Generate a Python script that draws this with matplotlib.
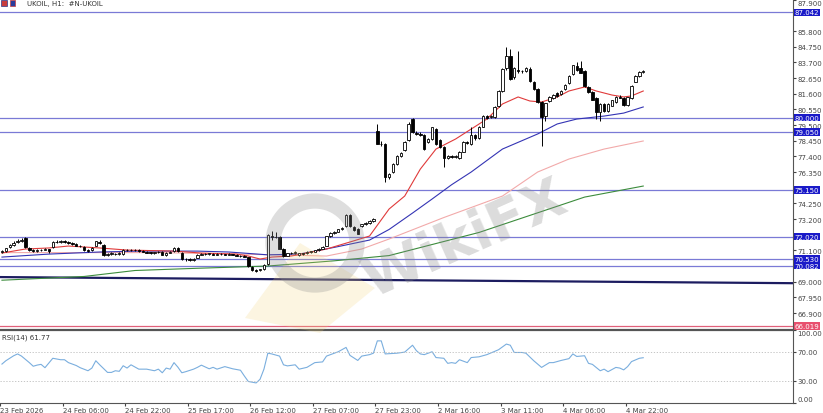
import numpy as np
import matplotlib
matplotlib.use('Agg')
import matplotlib.pyplot as plt
from matplotlib.patches import Rectangle, Circle, Polygon

# H1 candles, UKOIL
opens = [70.98, 71.05, 71.30, 71.46, 71.65, 71.74, 71.92, 71.25, 71.12, 71.08,
         71.12, 71.15, 71.18, 71.30, 71.66, 71.68, 71.70, 71.66, 71.58, 71.50,
         71.40, 71.32, 71.14, 71.10, 71.40, 71.68, 71.46, 70.82, 70.86, 70.88,
         70.86, 70.85, 71.15, 71.10, 71.10, 71.12, 71.04, 71.00, 70.96, 70.92,
         70.96, 71.00, 70.78, 70.95, 71.04, 71.25, 70.95, 70.52, 70.50, 70.46,
         70.60, 70.82, 70.85, 70.86, 70.88, 70.82, 70.85, 70.85, 70.82, 70.85,
         70.80, 70.75, 70.72, 70.65, 70.00, 69.80, 69.76, 69.85, 70.18, 72.05,
         72.00, 71.98, 71.20, 70.75, 70.90, 70.95, 70.76, 70.88, 70.90, 71.00,
         71.02, 71.10, 71.22, 71.40, 72.08, 72.25, 72.35, 72.50, 72.70, 73.45,
         72.66, 72.52, 72.72, 72.86, 72.95, 73.10, 79.10, 78.23, 78.20, 76.00,
         76.35, 76.90, 77.42, 77.80, 78.50, 79.90, 78.98, 78.90, 78.80, 78.36,
         78.56, 79.22, 78.50, 78.05, 77.32, 77.40, 77.36, 77.30, 77.72, 78.38,
         78.20, 78.80, 78.60, 79.40, 80.10, 80.02, 80.05, 80.76, 81.80, 83.30,
         84.10, 82.70, 83.20, 83.10, 83.14, 83.28, 82.40, 81.91, 81.04, 80.10,
         81.08, 81.30, 81.62, 81.55, 81.90, 82.30, 82.90, 83.45, 83.30, 83.10,
         82.05, 81.70, 81.30, 80.40, 80.90, 80.45, 80.80, 81.02, 81.38, 81.30,
         80.85, 81.30, 82.40, 82.80, 83.08]
highs = [71.12, 71.28, 71.52, 71.70, 71.86, 71.96, 71.98, 71.30, 71.20, 71.18,
         71.22, 71.26, 71.22, 71.70, 71.78, 71.80, 71.80, 71.74, 71.64, 71.56,
         71.48, 71.38, 71.20, 71.30, 71.75, 71.78, 71.50, 70.92, 70.96, 70.94,
         70.98, 71.20, 71.20, 71.18, 71.18, 71.16, 71.10, 71.05, 71.02, 71.00,
         71.05, 71.04, 70.98, 71.05, 71.30, 71.30, 70.98, 70.58, 70.56, 70.60,
         70.84, 70.90, 70.92, 70.94, 70.92, 70.90, 70.90, 70.88, 70.90, 70.88,
         70.84, 70.80, 70.76, 70.68, 70.05, 69.86, 69.88, 70.18, 72.18, 72.40,
         72.30, 72.05, 71.25, 70.95, 71.00, 71.05, 70.92, 70.94, 71.04, 71.08,
         71.15, 71.25, 71.40, 72.08, 72.30, 72.40, 72.56, 72.66, 73.52, 73.55,
         72.72, 72.58, 72.90, 72.98, 73.14, 73.26, 79.57, 78.40, 78.28, 76.30,
         76.95, 77.48, 77.70, 78.42, 79.70, 80.00, 79.10, 79.02, 78.88, 78.65,
         79.40, 79.30, 78.58, 78.10, 77.50, 77.48, 77.52, 77.76, 78.42, 78.44,
         79.37, 78.90, 79.45, 80.15, 80.18, 80.16, 80.76, 81.82, 83.30, 84.73,
         84.60, 83.40, 84.46, 83.22, 83.39, 83.36, 82.46, 81.98, 81.10, 81.00,
         81.42, 81.55, 81.70, 81.84, 82.25, 82.84, 83.55, 83.70, 83.80, 83.18,
         82.10, 81.76, 81.36, 80.95, 80.98, 80.95, 81.20, 81.45, 81.48, 81.36,
         81.40, 82.15, 82.86, 83.10, 83.20]
lows = [70.92, 71.00, 71.25, 71.42, 71.60, 71.68, 71.25, 71.05, 71.02, 71.02,
        71.05, 71.10, 70.95, 71.28, 71.60, 71.62, 71.62, 71.55, 71.48, 71.36,
        71.30, 71.05, 70.98, 71.05, 71.38, 71.55, 70.75, 70.72, 70.80, 70.78,
        70.82, 70.82, 71.06, 71.04, 71.06, 71.00, 70.96, 70.90, 70.88, 70.88,
        70.92, 70.76, 70.74, 70.92, 71.00, 71.02, 70.48, 70.42, 70.40, 70.42,
        70.56, 70.76, 70.80, 70.82, 70.78, 70.78, 70.80, 70.78, 70.78, 70.76,
        70.72, 70.68, 70.64, 69.98, 69.74, 69.65, 69.70, 69.80, 70.10, 71.78,
        71.90, 71.18, 70.66, 70.70, 70.85, 70.88, 70.70, 70.80, 70.86, 70.95,
        70.98, 71.06, 71.18, 71.36, 72.02, 72.18, 72.30, 72.44, 72.66, 72.66,
        72.40, 72.18, 72.68, 72.80, 72.90, 73.02, 78.20, 78.10, 75.68, 75.85,
        76.28, 76.85, 77.36, 77.75, 78.45, 78.95, 78.80, 78.76, 77.82, 78.30,
        78.50, 78.18, 77.98, 76.69, 77.20, 77.28, 77.30, 77.25, 77.68, 78.20,
        78.16, 78.50, 78.56, 79.35, 79.90, 79.96, 80.00, 80.70, 81.74, 83.22,
        82.52, 82.60, 83.00, 82.98, 83.05, 82.40, 81.86, 81.00, 78.10, 79.80,
        81.02, 81.25, 81.40, 81.50, 81.86, 82.25, 82.85, 83.15, 82.96, 82.05,
        81.62, 81.15, 79.90, 79.80, 80.38, 80.40, 80.75, 80.98, 81.28, 80.80,
        80.80, 81.25, 82.35, 82.75, 82.98]
closes = [71.05, 71.25, 71.46, 71.62, 71.72, 71.80, 71.30, 71.12, 71.08, 71.12,
          71.15, 71.20, 71.05, 71.65, 71.68, 71.72, 71.66, 71.60, 71.52, 71.40,
          71.36, 71.10, 71.04, 71.25, 71.70, 71.62, 70.80, 70.86, 70.90, 70.84,
          70.92, 71.15, 71.12, 71.10, 71.14, 71.05, 71.00, 70.95, 70.92, 70.96,
          71.00, 70.80, 70.95, 71.00, 71.25, 71.05, 70.52, 70.50, 70.45, 70.55,
          70.80, 70.85, 70.86, 70.88, 70.82, 70.85, 70.85, 70.82, 70.85, 70.80,
          70.75, 70.72, 70.68, 70.02, 69.80, 69.75, 69.82, 70.15, 72.10, 72.02,
          71.98, 71.22, 70.72, 70.90, 70.95, 71.00, 70.90, 70.86, 71.00, 71.02,
          71.10, 71.20, 71.35, 72.05, 72.25, 72.35, 72.50, 72.60, 73.47, 72.72,
          72.45, 72.22, 72.86, 72.92, 73.10, 73.20, 78.23, 78.20, 76.00, 76.20,
          76.90, 77.42, 77.60, 78.36, 79.60, 79.03, 78.92, 78.85, 77.90, 78.56,
          79.35, 78.23, 78.05, 77.30, 77.40, 77.36, 77.45, 77.72, 78.38, 78.30,
          78.85, 78.60, 79.40, 80.10, 80.00, 80.10, 80.72, 81.76, 83.25, 84.12,
          82.60, 83.30, 83.10, 83.14, 83.30, 82.45, 81.91, 81.04, 80.04, 80.95,
          81.38, 81.50, 81.45, 81.80, 82.20, 82.80, 83.50, 83.20, 83.00, 82.10,
          81.70, 81.20, 80.40, 80.90, 80.45, 80.90, 81.15, 81.40, 81.34, 80.85,
          81.35, 82.10, 82.80, 83.05, 83.12]

# moving averages, sampled along the chart
red_ma_bar = [0, 6, 12, 17, 25, 32, 44, 51, 60, 63, 66, 69, 74, 83, 89, 94, 99,
              103, 107, 111, 116, 120, 124, 128, 132, 135, 138, 142, 145, 149,
              152, 156, 159, 161, 164]
red_ma = [70.92, 71.19, 71.26, 71.39, 71.26, 71.12, 71.05, 70.92, 70.85, 70.72,
          70.52, 70.65, 70.72, 71.19, 71.66, 72.06, 73.87, 74.74, 76.55, 77.89,
          78.56, 79.23, 79.90, 80.91, 81.38, 81.11, 81.04, 81.38, 81.78, 82.05,
          81.78, 81.51, 81.38, 81.45, 81.78]
blue_ma_bar = [0, 12, 25, 35, 50, 58, 68, 76, 85, 94, 99, 105, 110, 115, 120,
               128, 137, 142, 147, 154, 159, 164]
blue_ma = [70.65, 70.85, 70.99, 71.05, 71.05, 70.99, 70.80, 70.85, 71.30, 71.79,
           72.50, 73.60, 74.54, 75.50, 76.35, 77.89, 78.90, 79.57, 79.90, 80.10,
           80.30, 80.71]
pink_ma_bar = [0, 40, 70, 83, 92, 99, 113, 128, 137, 145, 154, 164]
pink_ma = [70.95, 70.95, 70.80, 70.72, 71.19, 71.86, 73.30, 74.74, 76.35, 77.22,
           77.89, 78.43]
green_ma_bar = [0, 21, 34, 50, 68, 85, 99, 122, 149, 164]
green_ma = [69.10, 69.35, 69.75, 69.90, 70.05, 70.40, 70.75, 72.30, 74.67, 75.41]

trend_x = [-0.5, 202.3]
trend_y = [69.31, 68.90]

levels = [87.042, 80.000, 79.050, 75.150, 72.020, 70.530, 70.082]
red_level = 66.019

price_ticks = [87.900, 85.800, 84.750, 83.700, 82.650, 81.600, 80.550, 79.500,
               78.450, 77.400, 76.350, 74.250, 73.200, 71.100, 69.000, 67.950,
               66.900]

rsi_bar = [0, 1, 3, 4, 5, 7, 8, 9, 10, 11, 13, 15, 16, 17, 19, 20, 22, 23, 24,
           25, 27, 28, 29, 30, 31, 32, 33, 35, 37, 39, 40, 41, 42, 43, 44, 45,
           46, 47, 49, 50, 51, 53, 54, 55, 57, 59, 61, 62, 63, 65, 66, 67, 68,
           69, 71, 72, 73, 75, 76, 78, 80, 82, 83, 86, 88, 89, 91, 92, 94, 95,
           96, 97, 98, 101, 103, 105, 106, 107, 108, 110, 111, 113, 114, 115,
           116, 117, 119, 120, 122, 124, 126, 127, 129, 130, 131, 133, 134, 136,
           138, 140, 141, 143, 145, 146, 147, 149, 150, 151, 153, 154, 155, 157,
           158, 159, 160, 161, 163, 164]
rsi_val = [53, 57.6, 64.5, 67, 64, 55, 50, 51.6, 52.6, 48, 61, 59, 59, 55, 51,
           48, 43.8, 47.5, 57.6, 52, 41.5, 41.5, 43.8, 43, 50.7, 47.5, 52, 46,
           46, 43.8, 46, 41, 47.5, 46, 55, 48.7, 41, 42.5, 46, 48.5, 51.5, 46.5,
           48.5, 46, 49.5, 46.5, 44.5, 36.5, 29, 27, 32, 46, 68, 67, 64, 52,
           50.5, 52, 46, 48.5, 55, 56, 64, 70, 76, 65, 58, 64, 66, 68, 85, 85,
           67, 68, 69.5, 79, 71.4, 67, 66, 70, 62, 61, 54, 55, 54, 59, 55, 62,
           63, 66, 70.5, 72.8, 80.6, 79, 69, 69, 68, 57.6, 48.4, 55, 55, 58,
           60.5, 67, 63.5, 64.5, 54, 52.6, 43.8, 46, 42.5, 48.4, 47.5, 45, 49.5,
           56.4, 61, 61.77]

time_labels = ['23 Feb 2026', '24 Feb 06:00', '24 Feb 22:00', '25 Feb 17:00',
               '26 Feb 12:00', '27 Feb 07:00', '27 Feb 23:00', '2 Mar 16:00',
               '3 Mar 11:00', '4 Mar 06:00', '4 Mar 22:00']

W, H = 823, 414
FS = 5.0
fig = plt.figure(figsize=(W / 100, H / 100), dpi=100)
fig.patch.set_facecolor('white')
ax = fig.add_axes([0, 1 - 330 / H, 793 / W, 330 / H])
rsi_ax = fig.add_axes([0, 1 - 403.5 / H, 793 / W, 72.5 / H], sharex=ax)

o = np.array(opens); hi = np.array(highs); lo = np.array(lows); c = np.array(closes)
idx = np.arange(len(c))
up = c >= o

# levels
for v in levels:
    ax.axhline(v, color='#7a7ad6', lw=0.9, zorder=1)
ax.axhline(red_level, color='#e0607a', lw=0.9, zorder=1)
ax.plot(trend_x, trend_y, color='#1c1c60', lw=1.6, zorder=1)

# MAs
ax.plot(green_ma_bar, green_ma, color='#3c8c3c', lw=0.8, zorder=2)
ax.plot(pink_ma_bar, pink_ma, color='#f2aaaa', lw=0.8, zorder=2)
ax.plot(blue_ma_bar, blue_ma, color='#3434b4', lw=0.8, zorder=2)
ax.plot(red_ma_bar, red_ma, color='#e03a3a', lw=0.8, zorder=2)

# candles
ax.vlines(idx, lo, hi, color='black', lw=0.7, zorder=3)
body_low = np.minimum(o, c)
body_h = np.maximum(np.abs(c - o), 0.03)
ax.bar(idx[up], body_h[up], bottom=body_low[up], width=0.62,
       facecolor='white', edgecolor='black', lw=0.6, zorder=4)
ax.bar(idx[~up], body_h[~up], bottom=body_low[~up], width=0.62,
       facecolor='black', edgecolor='black', lw=0.6, zorder=4)

ax.set_xlim(-0.5, 202.3)
ax.set_ylim(65.83, 87.945)
ax.yaxis.tick_right()
ax.set_yticks(price_ticks)
ax.set_yticklabels([f'{t:.3f}' for t in price_ticks])
ax.tick_params(axis='y', labelsize=FS, colors='#444444', length=2, pad=1)
ax.get_yticklabels()[0].set_va('top')
ax.tick_params(axis='x', bottom=False, labelbottom=False)
for s in ['left', 'top', 'bottom']:
    ax.spines[s].set_visible(False)
ax.spines['right'].set_color('#555555')

# level tags on the price scale
for v in levels:
    ax.annotate(f'{v:.3f}', xy=(1, v), xycoords=('axes fraction', 'data'),
                xytext=(1.0, 0), textcoords='offset points', va='center', ha='left',
                fontsize=FS, color='white', annotation_clip=False,
                bbox=dict(boxstyle='square,pad=0.12', fc='#1a1ac8', ec='none'))
ax.annotate(f'{red_level:.3f}', xy=(1, red_level), xycoords=('axes fraction', 'data'),
            xytext=(1.0, 0), textcoords='offset points', va='center', ha='left',
            fontsize=FS, color='white', annotation_clip=False,
            bbox=dict(boxstyle='square,pad=0.12', fc='#e8506e', ec='none'))

# title
ax.text(27 / 793, 1 - 4 / 330, 'UKOIL, H1:  #N-UKOIL', transform=ax.transAxes,
        fontsize=FS, color='#333333', va='center')
fig.patches.append(Rectangle((1 / W, 1 - 7 / H), 6 / W, 6 / H, transform=fig.transFigure,
                             fc='#c83c3c', ec='#2a3c8c', lw=0.5))
fig.patches.append(Rectangle((10 / W, 1 - 7 / H), 5 / W, 6 / H, transform=fig.transFigure,
                             fc='#2a3c9c', ec='#c83c3c', lw=0.5))

# watermark
fig.patches.append(Polygon([[2.45, 0.95], [3.0, 1.7], [3.75, 1.25], [3.2, 0.8]],
                           closed=True, transform=fig.dpi_scale_trans,
                           fc='#f3d27a', ec='none', alpha=0.22, zorder=10))
fig.patches.append(Circle((3.15, 1.7), 0.42, transform=fig.dpi_scale_trans,
                          fc='none', ec='#8a8a8a', lw=11, alpha=0.28, zorder=10))
fig.text(465 / W, 1 - 240 / H, 'WikiFX', fontsize=40, fontweight='bold',
         color='#8a8a8a', alpha=0.3, rotation=24, ha='center', va='center', zorder=10)

# RSI
rsi_ax.plot(rsi_bar, rsi_val, color='#7aaede', lw=0.8)
for lv in [70, 30]:
    rsi_ax.axhline(lv, color='#bbbbbb', lw=0.6, ls=(0, (1.5, 2)))
rsi_ax.set_ylim(0, 100)
rsi_ax.yaxis.tick_right()
rsi_ax.set_yticks([100, 70, 30, 0])
rsi_ax.set_yticklabels(['100.00', '70.00', '30.00', '0.00'])
rsi_ax.tick_params(axis='y', labelsize=FS, colors='#444444', length=2, pad=1)
rsi_ax.get_yticklabels()[0].set_va('top')
rsi_ax.get_yticklabels()[3].set_va('bottom')
rsi_ax.text(0.002, 0.95, 'RSI(14) 61.77', transform=rsi_ax.transAxes,
            fontsize=FS, color='#333333', va='top')
rsi_ax.spines['left'].set_visible(False)
rsi_ax.spines['top'].set_color('#555555')
rsi_ax.spines['top'].set_linewidth(1.6)
rsi_ax.spines['right'].set_color('#555555')
rsi_ax.spines['bottom'].set_color('#555555')

rsi_ax.set_xticks([16 * k - 0.5 for k in range(len(time_labels))])
rsi_ax.set_xticklabels(time_labels)
rsi_ax.tick_params(axis='x', labelsize=FS, colors='#444444', length=2.5, pad=0.5)
for lbl in rsi_ax.get_xticklabels():
    lbl.set_ha('left')

fig.savefig('out.png', dpi=100)
